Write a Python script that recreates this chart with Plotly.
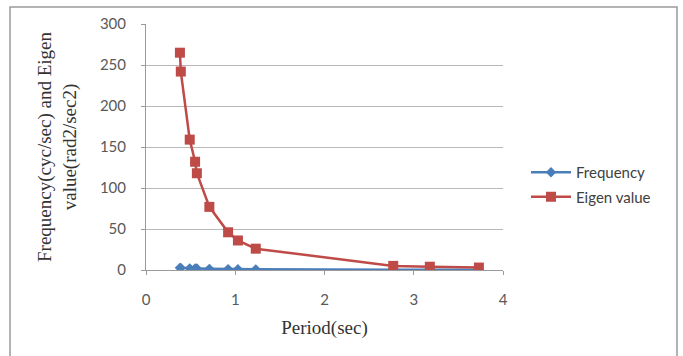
import plotly.graph_objects as go

# Modal periods (sec) with their frequencies and eigenvalues
period = [0.38, 0.39, 0.49, 0.55, 0.57, 0.71, 0.92, 1.03, 1.23, 2.77, 3.18, 3.73]
frequency = [2.63, 2.56, 2.04, 1.82, 1.75, 1.41, 1.09, 0.97, 0.81, 0.36, 0.31, 0.27]
eigen_value = [265, 242, 159, 132, 118, 77, 46, 36, 26, 5, 4, 3]

x_ticks = [0, 1, 2, 3, 4]
y_ticks = [0, 50, 100, 150, 200, 250, 300]

W, H = 683, 356
L, R, T, B = 146, 180, 24, 86
pw, ph = W - L - R, H - T - B

fig = go.Figure()
fig.add_trace(go.Scatter(
    x=period, y=frequency, name="Frequency", mode="lines+markers",
    legendgroup="f",
    line=dict(color="#4A7EBB", width=2.5),
    marker=dict(symbol="diamond", size=8, color="#4A7EBB"),
))
fig.add_trace(go.Scatter(
    x=period, y=eigen_value, name="Eigen value", mode="lines+markers",
    legendgroup="e",
    line=dict(color="#BE4B48", width=2.5),
    marker=dict(symbol="square", size=10, color="#BE4B48"),
))

# Outer chart frame
def px_x(p):
    return (p - L) / pw

def px_y(p):
    return (H - B - p) / ph

fig.add_shape(type="rect", xref="paper", yref="paper",
              x0=px_x(10), x1=px_x(677), y0=px_y(362), y1=px_y(7),
              line=dict(color="#9a9a9a", width=1.5), layer="below")

tick_font = dict(family="Lato, Liberation Sans, sans-serif", size=15, color="#595959")
title_font = dict(family="Liberation Serif, DejaVu Serif, serif", size=19, color="#333333")

fig.update_layout(
    width=W, height=H,
    margin=dict(l=L, r=R, t=T, b=B),
    paper_bgcolor="white", plot_bgcolor="white",
    showlegend=True,
    legend=dict(x=px_x(526), y=px_y(156), xanchor="left", yanchor="top",
                font=dict(family="Lato, Liberation Sans, sans-serif", size=15, color="#404040"),
                bgcolor="rgba(0,0,0,0)", tracegroupgap=2, itemwidth=40),
    xaxis=dict(range=[0, 4], tickvals=x_ticks, showgrid=False, zeroline=False,
               showline=True, linecolor="#9a9a9a", linewidth=1,
               ticks="outside", ticklen=4, tickcolor="#9a9a9a",
               tickfont=tick_font, ticklabelstandoff=12,
               title=dict(text="Period(sec)", font=title_font, standoff=13)),
    yaxis=dict(range=[0, 300], tickvals=y_ticks, showgrid=True, gridcolor="#b8b8b8",
               gridwidth=1, zeroline=False,
               showline=True, linecolor="#9a9a9a", linewidth=1,
               ticks="outside", ticklen=4, tickcolor="#9a9a9a",
               tickfont=tick_font, ticklabelstandoff=12,
               title=dict(text="Frequency(cyc/sec) and Eigen<br>value(rad2/sec2)",
                          font=title_font, standoff=18)),
)

fig.write_html("out.html")
